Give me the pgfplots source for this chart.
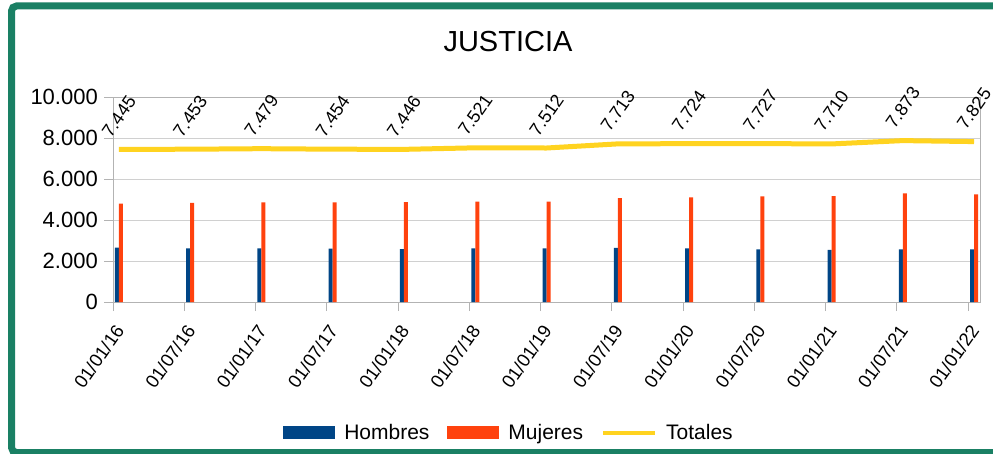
\documentclass[border=0pt]{standalone}
\usepackage{fontspec}
\setmainfont{Liberation Sans}
\usepackage{pgfplots}
\usepackage{pgfplotstable}
\pgfplotsset{compat=1.18}
\definecolor{hom}{HTML}{004586}
\definecolor{muj}{HTML}{FF420E}
\definecolor{tot}{HTML}{FFD320}
\definecolor{marco}{HTML}{1A8064}
\definecolor{rejilla}{HTML}{D0D0D0}
\definecolor{eje}{HTML}{B3B3B3}

% x: semestre (0 = 01/01/16), h: hombres, m: mujeres, t: totales
\pgfplotstableread{
x  h     m     t
0  2650  4795  7445
1  2620  4833  7453
2  2620  4859  7479
3  2600  4854  7454
4  2580  4866  7446
5  2620  4901  7521
6  2610  4902  7512
7  2640  5073  7713
8  2620  5104  7724
9  2570  5157  7727
10 2540  5170  7710
11 2570  5303  7873
12 2570  5255  7825
}\datos

\begin{document}
\begin{tikzpicture}
\useasboundingbox (0,0) rectangle (993pt,453pt);
\clip (0,0) rectangle (993pt,453pt);
\begin{axis}[
    at={(113pt,151pt)}, anchor=south west,
    width=867pt, height=205pt, scale only axis,
    xmin=-0.084, xmax=12.084,
    ymin=0, ymax=10000,
    xtick={-0.084,0.916,1.916,2.916,3.916,4.916,5.916,6.916,7.916,8.916,9.916,10.916,11.916},
    xticklabels={01/01/16,01/07/16,01/01/17,01/07/17,01/01/18,01/07/18,01/01/19,
        01/07/19,01/01/20,01/07/20,01/01/21,01/07/21,01/01/22},
    ytick={0,2000,4000,6000,8000,10000},
    scaled y ticks=false,
    /pgf/number format/1000 sep={.},
    /pgf/number format/assume math mode=true,
    ymajorgrids,
    grid style={rejilla, line width=1pt},
    axis line style={eje, line width=1pt},
    tick style={eje, line width=1pt},
    tick align=outside,
    major tick length=9pt,
    xtick pos=bottom, ytick pos=left,
    yticklabel style={font=\fontsize{22}{22}\selectfont, inner sep=0pt, xshift=-6pt},
    xticklabel style={font=\fontsize{18.5}{18.5}\selectfont, inner sep=0pt,
        xshift=6.7pt, yshift=-16pt, rotate=55, anchor=east},
    title={JUSTICIA},
    title style={at={(0.4556,1.195)}, anchor=base, font=\fontsize{29}{29}\selectfont},
    legend style={at={(0.4556,-0.6366)}, anchor=center, legend columns=3,
        draw=none, fill=none, font=\fontsize{21}{21}\selectfont,
        nodes={inner sep=0pt},
        /tikz/every odd column/.append style={column sep=9pt},
        /tikz/every even column/.append style={column sep=18pt}},
]
\addplot[ybar, bar width=4pt, bar shift=-2pt, draw=none, fill=hom,
    legend image code/.code={\fill (0pt,-6.5pt) rectangle (52pt,6.5pt);}]
    table[x=x, y=h] {\datos};
\addlegendentry{Hombres}
\addplot[ybar, bar width=4pt, bar shift=2pt, draw=none, fill=muj,
    legend image code/.code={\fill (0pt,-6.5pt) rectangle (52pt,6.5pt);}]
    table[x=x, y=m] {\datos};
\addlegendentry{Mujeres}
\addplot[tot, line width=5pt, no marks,
    nodes near coords,
    every node near coord/.append style={font=\fontsize{18}{18}\selectfont,
        text=black, anchor=center, yshift=33pt, rotate=55},
    legend image code/.code={\draw[line width=4pt] (0pt,0pt) -- (52pt,0pt);}]
    table[x=x, y=t] {\datos};
\addlegendentry{Totales}
\end{axis}
\draw[marco, line width=7pt, rounded corners=5pt]
    (1000pt,0.5pt) -- (11.5pt,0.5pt) -- (11.5pt,447pt) -- (1000pt,447pt);
\end{tikzpicture}
\end{document}
